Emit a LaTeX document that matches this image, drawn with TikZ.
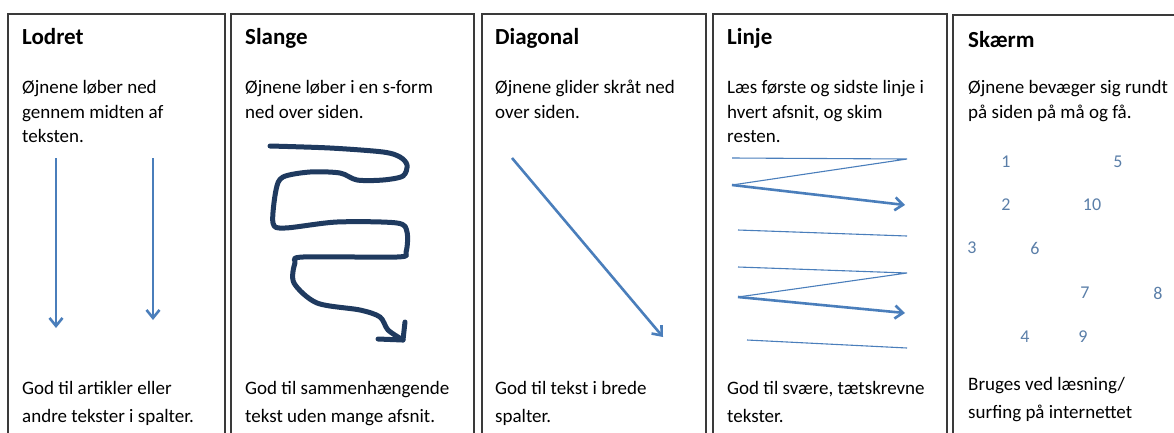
\documentclass[tikz,border=0pt]{standalone}
\usepackage{fontspec}
\setmainfont{Carlito}
\usepackage{tikz}
\usetikzlibrary{arrows.meta, positioning}
\definecolor{eyeblue}{HTML}{4A7EBB}
\definecolor{snakeblue}{HTML}{1F3A5F}
\definecolor{numblue}{HTML}{5A7EA8}
\definecolor{framegray}{HTML}{3A3A3A}

\begin{document}
\begin{tikzpicture}[x=1pt, y=-1pt,
	panel/.style={draw=framegray, line width=1.3pt},
	heading/.style={anchor=base west, inner sep=0pt, font=\fontsize{23}{24}\selectfont\bfseries},
	body/.style={anchor=north west, yshift=16.8pt, inner sep=0pt, align=left, font=\fontsize{19}{24.5}\selectfont, execute at begin node=\strut},
	gaze/.style={draw=eyeblue, line width=2.6pt, -{Straight Barb[length=8pt,width=13pt]}},
	skim/.style={draw=eyeblue, line width=1.1pt},
	fix/.style={text=numblue, inner sep=0pt, font=\fontsize{18}{18}\selectfont}]
			\useasboundingbox (0,0) rectangle (1174,432);
			\clip (0,0) rectangle (1174,432);
			
			% Panels
			\draw[panel] (8,14) rectangle (225,450);
			\draw[panel] (231,14) rectangle (474,450);
			\draw[panel] (482,14) rectangle (706,450);
			\draw[panel] (713,14) rectangle (947,450);
			\draw[panel] (953,15) rectangle (1190,450);
			
			% Lodret
			\node[heading] (lodret) at (22,44) {Lodret};
			\node[body] (lodretTop) at (22,97) {Øjnene løber ned\\gennem midten af\\teksten.};
			\node[body] (lodretBot) at (22,398) {God til artikler eller\\[3pt]andre tekster i spalter.};
			\draw[gaze] (56,158) -- (56,328);
			\draw[gaze] (153,158) -- (153,320);
			
			% Slange
			\node[heading] (slange) at (245,44) {Slange};
			\node[body] (slangeTop) at (245,97) {Øjnene løber i en s-form\\ned over siden.};
			\node[body] (slangeBot) at (245,398) {God til sammenhængende\\[3pt]tekst uden mange afsnit.};
			\draw[snakeblue, line width=5pt, line cap=round, line join=round]
				plot[smooth, tension=0.5] coordinates {(270,146) (330,148) (383,152) (400,157) (407,165) (403,176) (383,180) (357,180) (340,173) (310,172) (283,177) (276,190) (273,223) (285,228) (337,222) (397,223) (407,232) (406,252) (397,257) (303,257) (295,263) (294,283) (317,303) (360,310) (380,317) (388,330) (403,340)};
			\draw[snakeblue, line width=5pt, line cap=round, line join=round] (405,322) -- (403,340) -- (378,339);
			
			% Diagonal
			\node[heading] (diagonal) at (495,44) {Diagonal};
			\node[body] (diagonalTop) at (495,97) {Øjnene glider skråt ned\\over siden.};
			\node[body] (diagonalBot) at (495,398) {God til tekst i brede\\[3pt]spalter.};
			\draw[gaze] (512,158) -- (663,337);
			
			% Linje
			\node[heading] (linje) at (727,44) {Linje};
			\node[body] (linjeTop) at (727,97) {Læs første og sidste linje i\\hvert afsnit, og skim\\resten.};
			\node[body] (linjeBot) at (727,398) {God til svære, tætskrevne\\[3pt]tekster.};
			\draw[skim] (732,158) -- (907,159) -- (732,185);
			\draw[gaze] (732,185) -- (905,205);
			\draw[skim] (738,230) -- (907,236);
			\draw[skim] (738,267) -- (907,273) -- (738,297);
			\draw[gaze] (738,297) -- (905,313);
			\draw[skim] (747,340) -- (907,348);
			
			% Skaerm
			\node[heading] (skaerm) at (968,47) {Skærm};
			\node[body] (skaermTop) at (968,97) {Øjnene bevæger sig rundt\\på siden på må og få.};
			\node[body] (skaermBot) at (968,394) {Bruges ved læsning/\\[3pt]surfing på internettet};
			\node[fix] (n1) at (1006,162) {1};
			\node[fix] (n2) at (1006,205) {2};
			\node[fix] (n3) at (972,248) {3};
			\node[fix] (n4) at (1025,337) {4};
			\node[fix] (n5) at (1118,162) {5};
			\node[fix] (n6) at (1035,248) {6};
			\node[fix] (n7) at (1085,293) {7};
			\node[fix] (n8) at (1158,293) {8};
			\node[fix] (n9) at (1083,337) {9};
			\node[fix] (n10) at (1092,205) {10};
		\end{tikzpicture}
\end{document}
